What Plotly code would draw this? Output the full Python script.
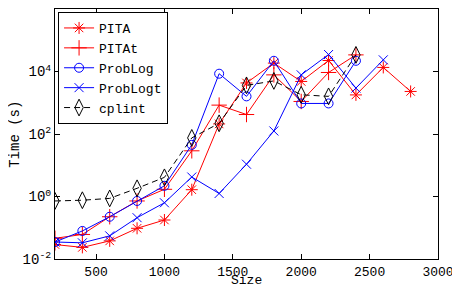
import plotly.graph_objects as go

sizes = [200, 400, 600, 800, 1000, 1200, 1400, 1600, 1800, 2000, 2200, 2400, 2600, 2800]

pita = [0.029, 0.0235, 0.038, 0.096, 0.177, 1.65, 210, 4300, 18600, 4800, 22500, 1780, 13500, 2300]
pitat = [0.046, 0.061, 0.225, 0.72, 1.7, 29, 840, 420, 7800, 1100, 9300, 34000]
problog = [0.035, 0.079, 0.225, 0.72, 2.2, 45, 8500, 1600, 22000, 950, 950, 22000]
problogt = [0.035, 0.033, 0.055, 0.21, 0.63, 4.2, 1.25, 10.8, 125, 7800, 35000, 2950, 23600]
cplint = [0.72, 0.76, 0.87, 1.83, 4.1, 75, 220, 3600, 5000, 1800, 1600, 34000]

y_tickvals = [0.01, 1, 100, 10000, 1000000]
y_ticktext = ["10<sup>-2</sup>", "10<sup>0</sup>", "10<sup>2</sup>", "10<sup>4</sup>", "10<sup>6</sup>"]
x_tickvals = [500, 1000, 1500, 2000, 2500, 3000]

FONT = "Liberation Mono"

series = [
    ("PITA", pita, "#ff0000", "asterisk-open", 10, "solid"),
    ("PITAt", pitat, "#ff0000", "cross-thin-open", 11, "solid"),
    ("ProbLog", problog, "#0000ff", "circle-open", 9, "solid"),
    ("ProbLogt", problogt, "#0000ff", "x-thin-open", 9, "solid"),
    ("cplint", cplint, "#000000", "diamond-tall-open", 12, "6px,4px"),
]

fig = go.Figure()
for name, vals, color, sym, msize, dash in series:
    fig.add_trace(go.Scatter(
        x=sizes[:len(vals)], y=vals, name=name, mode="lines+markers",
        line=dict(color=color, width=1, dash=dash),
        marker=dict(symbol=sym, size=msize, color=color, line=dict(color=color, width=1)),
    ))

# The page body has an 8px margin, so the figure is offset by 8px.
fig.update_layout(
    width=460, height=290,
    margin=dict(l=47, r=30, t=1, b=39),
    paper_bgcolor="white", plot_bgcolor="white",
    font=dict(family=FONT, size=14, color="black"),
    showlegend=True,
    legend=dict(
        x=0.008, y=0.988, xanchor="left", yanchor="top",
        bgcolor="white", bordercolor="black", borderwidth=1,
        font=dict(family=FONT, size=13, color="black"),
        tracegroupgap=0, itemwidth=30,
    ),
    annotations=[
        dict(text="Size", xref="paper", yref="paper", x=0.5, y=-0.086,
             xanchor="center", yanchor="middle", showarrow=False, borderpad=0,
             font=dict(family=FONT, size=13)),
        dict(text="Time (s)", xref="paper", yref="paper", x=-0.105, y=0.5,
             xanchor="center", yanchor="middle", showarrow=False, textangle=-90,
             font=dict(family=FONT, size=14)),
    ],
)
fig.update_xaxes(
    range=[200, 3000], tickvals=x_tickvals, automargin=False,
    showline=True, linecolor="black", linewidth=1, mirror="ticks",
    ticks="inside", ticklen=5, tickcolor="black", showgrid=False, zeroline=False,
    tickfont=dict(family=FONT, size=13),
)
fig.update_yaxes(
    type="log", range=[-2, 6], tickvals=y_tickvals, ticktext=y_ticktext, automargin=False,
    showline=True, linecolor="black", linewidth=1, mirror="ticks",
    ticks="inside", ticklen=5, tickcolor="black", showgrid=False, zeroline=False,
    tickfont=dict(family=FONT, size=14),
)

fig.write_html("out.html")
